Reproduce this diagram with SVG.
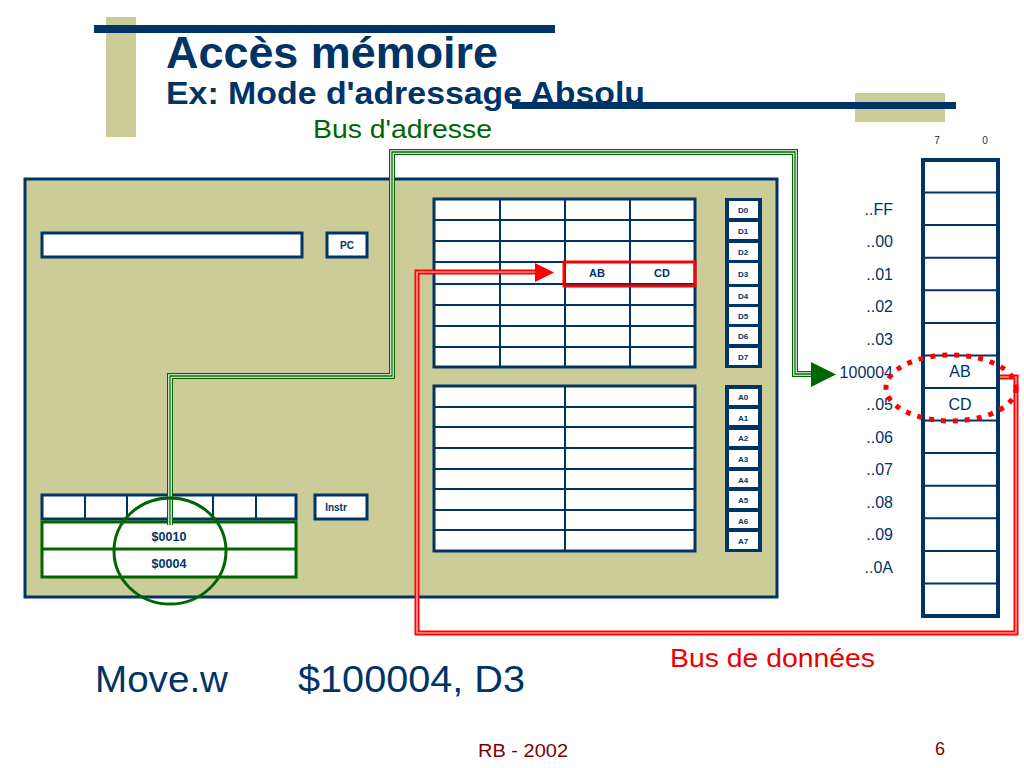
<svg xmlns="http://www.w3.org/2000/svg" width="1024" height="768" viewBox="0 0 1024 768">
<defs>
<style>
.nv{fill:#003366}
.lbl{font-family:"Liberation Sans",Arial,sans-serif;font-weight:bold;fill:#003366;text-anchor:middle}
.reg{fill:#ffffff;stroke:#003366;stroke-width:3}
.grid{stroke:#003366;stroke-width:2;fill:none}
.addr{font-family:"Liberation Sans",Arial,sans-serif;font-size:16px;fill:#003366;text-anchor:end}
.gb1{fill:none;stroke:#006600;stroke-width:6}
.gb2{fill:none;stroke:#ffffff;stroke-width:3.6}
.gb3{fill:none;stroke:#006600;stroke-width:1.3}
.rb1{fill:none;stroke:#ff0000;stroke-width:5}
.rb2{fill:none;stroke:#ffd0d0;stroke-width:1.2}
</style>
</defs>
<rect width="1024" height="768" fill="#ffffff"/>

<g id="title">
<rect x="106" y="17" width="30" height="120" fill="#cccc99"/>
<rect x="94" y="25" width="461" height="8" class="nv"/>
<rect x="855" y="93" width="90" height="29" fill="#cccc99"/>
<text x="166" y="68" font-family="'Liberation Sans',Arial,sans-serif" font-size="44" font-weight="bold" fill="#003366" textLength="332" lengthAdjust="spacingAndGlyphs">Accès mémoire</text>
<text x="166" y="104" font-family="'Liberation Sans',Arial,sans-serif" font-size="31" font-weight="bold" fill="#003366" textLength="479" lengthAdjust="spacingAndGlyphs">Ex: Mode d'adressage Absolu</text>
<rect x="512" y="102" width="444" height="7" class="nv"/>
</g>

<g id="cpu">
<rect x="25" y="179" width="752" height="418" fill="#cccc99" stroke="#003366" stroke-width="3"/>
</g>

<g id="pc">
<rect x="42" y="233" width="260" height="24" class="reg"/>
<rect x="327" y="233" width="40" height="24" class="reg"/>
<text x="347" y="249" font-size="10" class="lbl">PC</text>
</g>

<g id="data-registers">
<rect x="434" y="199" width="261" height="168" class="reg"/>
<path class="grid" d="M500,199V367M565,199V367M630,199V367M434,220H695M434,241H695M434,262H695M434,284H695M434,305H695M434,326H695M434,347H695"/>
<rect x="564" y="262" width="131" height="24" fill="none" stroke="#ff0000" stroke-width="3"/>
<text x="597" y="277" font-size="11" class="lbl">AB</text>
<text x="662" y="277" font-size="11" class="lbl">CD</text>
</g>

<g id="data-labels">
<rect x="725" y="198" width="37" height="170" class="nv"/>
<g fill="#ffffff">
<rect x="729" y="201" width="29" height="17"/>
<rect x="729" y="222" width="29" height="17"/>
<rect x="729" y="243" width="29" height="17"/>
<rect x="729" y="263" width="29" height="21"/>
<rect x="729" y="287" width="29" height="17"/>
<rect x="729" y="307" width="29" height="17"/>
<rect x="729" y="327" width="29" height="17"/>
<rect x="729" y="348" width="29" height="17"/>
</g>
<g font-size="8">
<text x="743" y="213" class="lbl">D0</text>
<text x="743" y="234" class="lbl">D1</text>
<text x="743" y="255" class="lbl">D2</text>
<text x="743" y="277" class="lbl">D3</text>
<text x="743" y="299" class="lbl">D4</text>
<text x="743" y="319" class="lbl">D5</text>
<text x="743" y="339" class="lbl">D6</text>
<text x="743" y="360" class="lbl">D7</text>
</g>
</g>

<g id="address-registers">
<rect x="434" y="386" width="261" height="165" class="reg"/>
<path class="grid" d="M565,386V551M434,407H695M434,427H695M434,448H695M434,469H695M434,489H695M434,510H695M434,530H695"/>
</g>

<g id="address-labels">
<rect x="725" y="385" width="37" height="167" class="nv"/>
<g fill="#ffffff">
<rect x="729" y="389" width="29" height="16"/>
<rect x="729" y="409" width="29" height="16"/>
<rect x="729" y="430" width="29" height="16"/>
<rect x="729" y="450" width="29" height="17"/>
<rect x="729" y="471" width="29" height="16"/>
<rect x="729" y="491" width="29" height="17"/>
<rect x="729" y="512" width="29" height="16"/>
<rect x="729" y="532" width="29" height="17"/>
</g>
<g font-size="8">
<text x="743" y="400" class="lbl">A0</text>
<text x="743" y="421" class="lbl">A1</text>
<text x="743" y="441" class="lbl">A2</text>
<text x="743" y="462" class="lbl">A3</text>
<text x="743" y="483" class="lbl">A4</text>
<text x="743" y="503" class="lbl">A5</text>
<text x="743" y="524" class="lbl">A6</text>
<text x="743" y="544" class="lbl">A7</text>
</g>
</g>

<g id="instr">
<rect x="42" y="495" width="254" height="24" class="reg"/>
<path class="grid" d="M85,495V519M127,495V519M170,495V519M213,495V519M256,495V519" stroke-width="3"/>
<rect x="315" y="495" width="52" height="24" class="reg"/>
<text x="336" y="511" font-size="10" class="lbl">Instr</text>
</g>

<g id="extension-words">
<rect x="42" y="522" width="254" height="55" fill="#ffffff" stroke="#006600" stroke-width="3"/>
<line x1="42" y1="549" x2="296" y2="549" stroke="#006600" stroke-width="3"/>
<text x="169" y="541" font-size="12.5" class="lbl">$0010</text>
<text x="169" y="568" font-size="12.5" class="lbl">$0004</text>
</g>

<g id="memory">
<rect x="923" y="160" width="75" height="456" fill="#ffffff" stroke="#003366" stroke-width="4"/>
<path class="grid" d="M923,192.6H998M923,225.1H998M923,257.7H998M923,290.3H998M923,322.9H998M923,355.4H998M923,388H998M923,420.6H998M923,453.1H998M923,485.7H998M923,518.3H998M923,550.9H998M923,583.4H998"/>
<text x="937" y="144" font-family="'Liberation Sans',Arial,sans-serif" font-size="10" fill="#003366" text-anchor="middle">7</text>
<text x="985" y="144" font-family="'Liberation Sans',Arial,sans-serif" font-size="10" fill="#003366" text-anchor="middle">0</text>
<text x="960" y="377" font-family="'Liberation Sans',Arial,sans-serif" font-size="16" fill="#003366" text-anchor="middle">AB</text>
<text x="960" y="410" font-family="'Liberation Sans',Arial,sans-serif" font-size="16" fill="#003366" text-anchor="middle">CD</text>
<text x="893" y="215" class="addr">..FF</text>
<text x="893" y="247" class="addr">..00</text>
<text x="893" y="280" class="addr">..01</text>
<text x="893" y="312" class="addr">..02</text>
<text x="893" y="345" class="addr">..03</text>
<text x="893" y="378" class="addr">100004</text>
<text x="893" y="410" class="addr">..05</text>
<text x="893" y="443" class="addr">..06</text>
<text x="893" y="475" class="addr">..07</text>
<text x="893" y="508" class="addr">..08</text>
<text x="893" y="540" class="addr">..09</text>
<text x="893" y="573" class="addr">..0A</text>
</g>

<g id="connectors">
<path class="rb1" d="M1000,377H1016V633H417V272H537"/>
<path class="rb2" d="M1000,377H1016V633H417V272H537"/>
<polygon points="535,263 554,272.5 535,282" fill="#ff0000"/>
<path class="gb1" d="M170,525V376H392V152H795V374H813"/>
<path class="gb2" d="M170,525V376H392V152H795V374H813"/>
<path class="gb3" d="M170,525V376H392V152H795V374H813"/>
<polygon points="811,362 836,374.5 811,387" fill="#006600"/>
</g>

<g id="highlights">
<ellipse cx="170" cy="551" rx="56" ry="53" fill="none" stroke="#006600" stroke-width="3"/>
<ellipse cx="951" cy="388" rx="65" ry="33" fill="none" stroke="#ff0000" stroke-width="5" stroke-dasharray="5 7"/>
</g>

<g id="texts">
<text x="313" y="138" font-family="'Liberation Sans',Arial,sans-serif" font-size="26" fill="#006600" textLength="179" lengthAdjust="spacingAndGlyphs">Bus d'adresse</text>
<text x="670" y="667" font-family="'Liberation Sans',Arial,sans-serif" font-size="26" fill="#ee0000" textLength="205" lengthAdjust="spacingAndGlyphs">Bus de données</text>
<text x="95" y="692" font-family="'Liberation Sans',Arial,sans-serif" font-size="37" fill="#003366" textLength="133" lengthAdjust="spacingAndGlyphs">Move.w</text>
<text x="298" y="692" font-family="'Liberation Sans',Arial,sans-serif" font-size="37" fill="#003366" textLength="227" lengthAdjust="spacingAndGlyphs">$100004, D3</text>
<text x="478" y="757" font-family="'Liberation Sans',Arial,sans-serif" font-size="18" fill="#800000" textLength="90" lengthAdjust="spacingAndGlyphs">RB - 2002</text>
<text x="935" y="755" font-family="'Liberation Sans',Arial,sans-serif" font-size="18" fill="#800000">6</text>
</g>
</svg>
